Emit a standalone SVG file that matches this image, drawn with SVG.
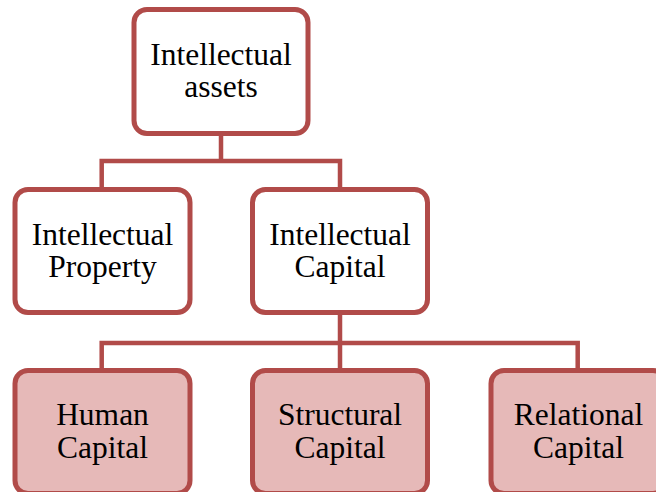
<svg xmlns="http://www.w3.org/2000/svg" width="656" height="492" viewBox="0 0 656 492">
<style>
.box{fill:#ffffff;stroke:#b14b49;stroke-width:5}
.leaf{fill:#e6b9b8;stroke:#b14b49;stroke-width:5}
.conn{fill:none;stroke:#b14b49;stroke-width:4.5;stroke-linejoin:miter}
text{font-family:"Liberation Serif","Times New Roman",serif;font-size:31.5px;fill:#000;text-anchor:middle}
</style>
<rect width="656" height="492" fill="#ffffff"/>
<g id="connectors">
<path class="conn" d="M221 136 V161 M101.7 187 V161 H340 V187"/>
<path class="conn" d="M340 315 V343 M101.7 368 V343 H577.7 V368 M340 343 V368"/>
</g>
<g id="n-assets">
<rect class="box" x="134" y="9.5" width="174" height="124" rx="13"/>
<text x="221" y="64.5">Intellectual</text>
<text x="221" y="97">assets</text>
</g>
<g id="n-property">
<rect class="box" x="15" y="189.5" width="175" height="123" rx="13"/>
<text x="102.5" y="244.5">Intellectual</text>
<text x="102.5" y="277">Property</text>
</g>
<g id="n-capital">
<rect class="box" x="252.5" y="189.5" width="175" height="123" rx="13"/>
<text x="340" y="244.5">Intellectual</text>
<text x="340" y="277">Capital</text>
</g>
<g id="n-human">
<rect class="leaf" x="15" y="370.5" width="175" height="123" rx="13"/>
<text x="102.5" y="425">Human</text>
<text x="102.5" y="458">Capital</text>
</g>
<g id="n-structural">
<rect class="leaf" x="252.5" y="370.5" width="175" height="123" rx="13"/>
<text x="340" y="425">Structural</text>
<text x="340" y="458">Capital</text>
</g>
<g id="n-relational">
<rect class="leaf" x="491" y="370.5" width="175" height="123" rx="13"/>
<text x="578.5" y="425">Relational</text>
<text x="578.5" y="458">Capital</text>
</g>
</svg>
